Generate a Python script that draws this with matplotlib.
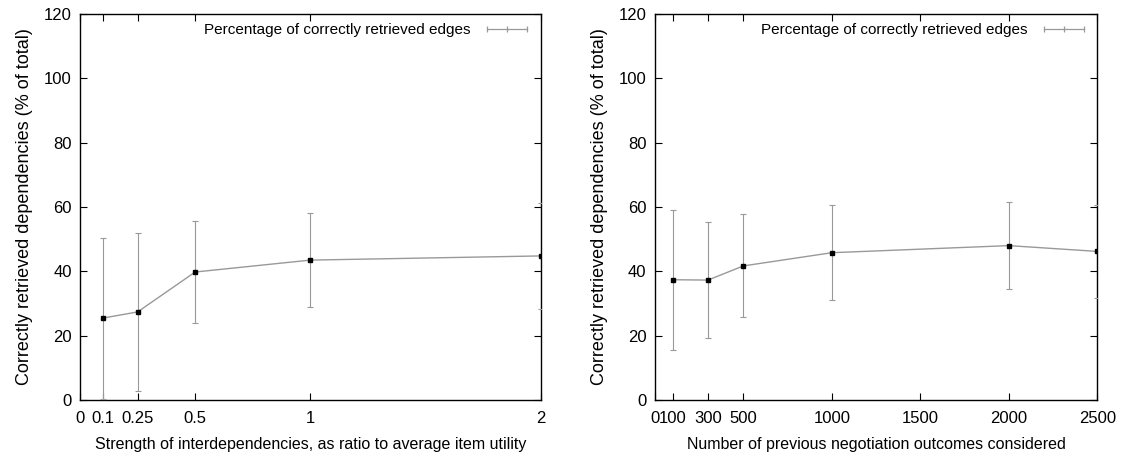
import matplotlib
matplotlib.use("Agg")
import matplotlib.pyplot as plt
from matplotlib.lines import Line2D

plt.rcParams['font.family'] = ['Liberation Sans', 'DejaVu Sans']

# interdependency strength experiment
strength = [0.1, 0.25, 0.5, 1, 2]
strength_pct = [25.5, 27.4, 39.8, 43.5, 44.8]
strength_err = [25.0, 24.5, 15.8, 14.6, 16.5]
strength_ticks = [0, 0.1, 0.25, 0.5, 1, 2]
strength_labels = ['0', '0.1', '0.25', '0.5', '1', '2']

# number of previous outcomes experiment
outcomes = [100, 300, 500, 1000, 2000, 2500]
outcomes_pct = [37.4, 37.3, 41.7, 45.8, 48.0, 46.2]
outcomes_err = [21.7, 18.1, 16.0, 14.7, 13.5, 14.5]
outcomes_ticks = [0, 100, 300, 500, 1000, 1500, 2000, 2500]
outcomes_labels = ['0', '100', '300', '500', '1000', '1500', '2000', '2500']

yticks = [0, 20, 40, 60, 80, 100, 120]
ylabel = 'Correctly retrieved dependencies (% of total)'
legend_label = 'Percentage of correctly retrieved edges'

fig = plt.figure(figsize=(11.43, 4.61), dpi=100)
ax1 = fig.add_axes([0.070, 0.132, 0.403, 0.838])
ax2 = fig.add_axes([0.573, 0.132, 0.387, 0.838])

def panel(ax, x, y, err, ticks, labels, xmax, xlabel):
    ax.errorbar(x, y, yerr=err, color='#999999', lw=1.0, elinewidth=0.8,
                capsize=2.5, capthick=0.8, marker='s', markersize=3.5,
                mfc='black', mec='black', clip_on=True, zorder=3)
    ax.set_xlim(0, xmax)
    ax.set_ylim(0, 120)
    ax.set_xticks(ticks)
    ax.set_xticklabels(labels)
    ax.set_yticks(yticks)
    ax.tick_params(direction='in', top=True, right=True, length=5,
                   width=0.8, labelsize=12)
    ax.tick_params(axis='x', pad=8)
    ax.tick_params(axis='y', pad=6)
    for sp in ax.spines.values():
        sp.set_linewidth(1.0)
    ax.set_xlabel(xlabel, fontsize=11.5, labelpad=8)
    ax.set_ylabel(ylabel, fontsize=13, labelpad=8)
    handle = Line2D([], [], color='#999999', lw=0.9, marker='|',
                    markersize=5, markeredgewidth=0.9)
    ax.legend([handle], [legend_label], loc='upper right', frameon=False,
              markerfirst=False, numpoints=3, fontsize=11, handlelength=3.2,
              borderaxespad=0.2)

panel(ax1, strength, strength_pct, strength_err, strength_ticks,
      strength_labels, 2,
      'Strength of interdependencies, as ratio to average item utility')
panel(ax2, outcomes, outcomes_pct, outcomes_err, outcomes_ticks,
      outcomes_labels, 2500, 'Number of previous negotiation outcomes considered')

fig.savefig('out.png', dpi=100)
